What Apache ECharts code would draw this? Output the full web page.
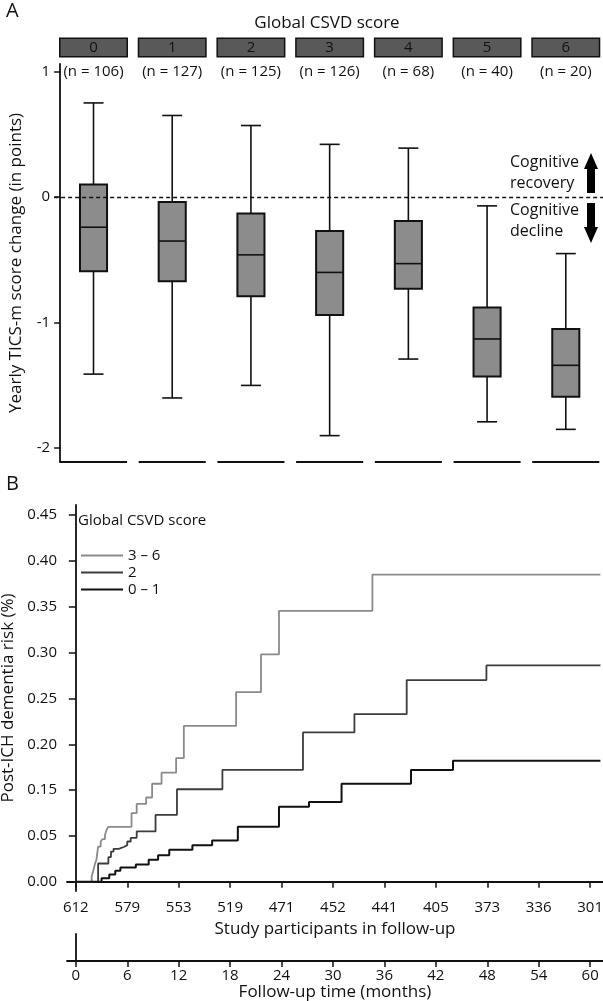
<!DOCTYPE html>
<html><head><meta charset="utf-8">
<script src="https://cdn.jsdelivr.net/npm/echarts@6/dist/echarts.min.js"></script>
<style>html,body{margin:0;padding:0;background:#fff}#c{width:603px;height:1001px}</style>
</head><body><div id="c"></div>
<script>
// ---------- Panel A data ----------
const scoreCategories = ['0','1','2','3','4','5','6'];
const scoreCounts = [106,127,125,126,68,40,20];
const whiskerHigh = [0.75,0.65,0.57,0.42,0.39,-0.07,-0.45];
const upperQuartile = [0.10,-0.04,-0.13,-0.27,-0.19,-0.88,-1.05];
const medians = [-0.24,-0.35,-0.46,-0.60,-0.53,-1.13,-1.34];
const lowerQuartile = [-0.59,-0.67,-0.79,-0.94,-0.73,-1.43,-1.59];
const whiskerLow = [-1.41,-1.60,-1.50,-1.90,-1.29,-1.79,-1.85];
const scoreTicks = [-2,-1,0,1];

// ---------- Panel B data ----------
const monthTicks = [0,6,12,18,24,30,36,42,48,54,60];
const participantsInFollowUp = [612,579,553,519,471,452,441,405,373,336,301];
const riskTickValues = [0,0.05,0.10,0.15,0.20,0.25,0.30,0.35,0.40];
const riskTickLabels = ['0.00','0.05','0.15','0.20','0.25','0.30','0.35','0.40','0.45'];
const groupNames = ['3 – 6','2','0 – 1'];
const months36 = [0,1.85,2.0,2.2,2.4,2.6,2.9,3.1,3.4,3.6,3.8,6.5,7.1,8.2,8.9,10.0,11.7,12.6,18.7,21.6,23.7,34.6,61.2];
const risk36   = [0,0.006,0.011,0.0185,0.024,0.0385,0.044,0.0465,0.051,0.057,0.060,0.075,0.085,0.092,0.107,0.119,0.135,0.17,0.207,0.248,0.2956,0.335,0.335];
const months2  = [0,2.6,3.8,4.1,4.4,5.0,5.6,6.0,6.4,7.1,9.3,11.8,17.1,26.5,32.5,38.6,47.9,61.2];
const risk2    = [0,0.020,0.027,0.033,0.036,0.038,0.040,0.044,0.048,0.055,0.073,0.101,0.122,0.163,0.183,0.22,0.236,0.236];
const months01 = [0,3.0,3.9,4.6,5.2,7.0,8.5,9.6,10.9,13.6,15.9,18.9,23.7,27.2,31.0,39.1,44.0,61.2];
const risk01   = [0,0.004,0.008,0.012,0.0156,0.019,0.024,0.029,0.035,0.040,0.045,0.060,0.082,0.087,0.107,0.122,0.132,0.132];

const FONT = 'Open Sans';
const INK = '#111';
const yMinA = -2.11, yMaxA = 1.06;
const xMinB = -1.03, xMaxB = 61.5;

const boxData = scoreCategories.map((c,i)=>[i, whiskerHigh[i], upperQuartile[i], medians[i], lowerQuartile[i], whiskerLow[i]]);
const pairs = (xs, ys) => xs.map((x,i)=>[x, ys[i]]);

const chart = echarts.init(document.getElementById('c'), null, {renderer:'canvas'});
const option = {
  animation:false,
  backgroundColor:'#fff',
  textStyle:{fontFamily:FONT, color:INK},
  grid:[
    {left:54.15, width:551, top:64, height:398, containLabel:false, outerBoundsMode:'none'},
    {left:67, right:0, top:505, height:386, containLabel:false, outerBoundsMode:'none'},
    {left:67, right:0, top:934, height:27, containLabel:false, outerBoundsMode:'none'}
  ],
  xAxis:[
    {gridIndex:0, type:'category', data:scoreCategories, boundaryGap:true,
     axisLine:{show:false}, axisTick:{show:false}, axisLabel:{show:false}, splitLine:{show:false}},
    {gridIndex:0, type:'category', data:scoreCategories, position:'top', boundaryGap:true,
     axisLine:{show:false}, axisTick:{show:false}, splitLine:{show:false},
     axisLabel:{margin:8, interval:0, formatter:v=>'{b|'+v+'}',
       rich:{b:{width:66,height:17,lineHeight:17,align:'center',backgroundColor:'#595959',borderColor:INK,borderWidth:1.5,color:INK,fontSize:15,fontFamily:FONT}}}},
    {gridIndex:0, type:'category', data:scoreCounts.map(n=>'(n = '+n+')'), position:'top', boundaryGap:true,
     axisLine:{show:false}, axisTick:{show:false}, splitLine:{show:false},
     axisLabel:{inside:true, margin:0, interval:0, fontSize:15, color:INK, fontFamily:FONT}},
    {gridIndex:1, type:'value', min:xMinB, max:xMaxB,
     name:'Study participants in follow-up', nameLocation:'middle', nameGap:30,
     nameTextStyle:{fontSize:17, color:INK, fontFamily:FONT},
     axisLine:{show:true, lineStyle:{color:INK, width:1.8}},
     axisTick:{show:true, length:6, lineStyle:{color:INK, width:1.5}, customValues:monthTicks},
     axisLabel:{fontSize:15, color:INK, margin:9, customValues:monthTicks,
       formatter:v=>{const k=monthTicks.indexOf(Math.round(v)); return k>=0?String(participantsInFollowUp[k]):'';}},
     splitLine:{show:false}},
    {gridIndex:2, type:'value', min:xMinB, max:xMaxB,
     name:'Follow-up time (months)', nameLocation:'middle', nameGap:21,
     nameTextStyle:{fontSize:17, color:INK, fontFamily:FONT},
     axisLine:{show:true, lineStyle:{color:INK, width:1.8}},
     axisTick:{show:true, length:6, lineStyle:{color:INK, width:1.5}, customValues:monthTicks},
     axisLabel:{fontSize:15, color:INK, margin:7, customValues:monthTicks, formatter:v=>String(v)},
     splitLine:{show:false}}
  ],
  yAxis:[
    {gridIndex:0, type:'value', min:yMinA, max:yMaxA, offset:-6,
     name:'Yearly TICS-m score change (in points)', nameLocation:'middle', nameGap:35,
     nameTextStyle:{fontSize:17, color:INK, fontFamily:FONT},
     axisLine:{show:true, lineStyle:{color:INK, width:1.8}},
     axisTick:{show:true, length:6, lineStyle:{color:INK, width:1.5}, customValues:scoreTicks},
     axisLabel:{fontSize:15, color:INK, margin:10, customValues:scoreTicks, formatter:v=>String(v)},
     splitLine:{show:false}},
    {gridIndex:1, type:'value', min:-0.01, max:0.411,
     name:'Post-ICH dementia risk (%)', nameLocation:'middle', nameGap:43,
     nameTextStyle:{fontSize:17, color:INK, fontFamily:FONT},
     axisLine:{show:true, lineStyle:{color:INK, width:1.8}},
     axisTick:{show:true, length:7, lineStyle:{color:INK, width:1.5}, customValues:riskTickValues},
     axisLabel:{fontSize:15, color:INK, margin:10, customValues:riskTickValues,
       formatter:v=>{let k=-1; riskTickValues.forEach((t,j)=>{if(Math.abs(t-v)<1e-6)k=j;}); return k>=0?riskTickLabels[k]:'';}},
     splitLine:{show:false}},
    {gridIndex:2, type:'value', min:0, max:1,
     axisLine:{show:true, lineStyle:{color:INK, width:1.8}},
     axisTick:{show:false}, axisLabel:{show:false}, splitLine:{show:false}}
  ],
  legend:{
    left:76, top:543, orient:'vertical', icon:'rect', itemWidth:42, itemHeight:2, itemGap:2,
    textStyle:{fontSize:15, color:INK, fontFamily:FONT}, data:groupNames, selectedMode:false
  },
  series:[
    {type:'custom', xAxisIndex:0, yAxisIndex:0, data:boxData, clip:false,
     renderItem:(params, api)=>{
       const i = api.value(0);
       const pHi = api.coord([i, api.value(1)]);
       const pQ3 = api.coord([i, api.value(2)]);
       const pMed = api.coord([i, api.value(3)]);
       const pQ1 = api.coord([i, api.value(4)]);
       const pLo = api.coord([i, api.value(5)]);
       const pBase = api.coord([i, yMinA]);
       const band = api.size([1,0])[0];
       const x = pHi[0];
       const hw = band*0.172, cw = band*0.127, sw = band*0.426;
       const ls = {stroke:INK, lineWidth:1.6};
       return {type:'group', children:[
         {type:'line', shape:{x1:x,y1:pHi[1],x2:x,y2:pQ3[1]}, style:ls},
         {type:'line', shape:{x1:x,y1:pQ1[1],x2:x,y2:pLo[1]}, style:ls},
         {type:'line', shape:{x1:x-cw,y1:pHi[1],x2:x+cw,y2:pHi[1]}, style:ls},
         {type:'line', shape:{x1:x-cw,y1:pLo[1],x2:x+cw,y2:pLo[1]}, style:ls},
         {type:'rect', shape:{x:x-hw,y:pQ3[1],width:2*hw,height:pQ1[1]-pQ3[1]}, style:{fill:'#8c8c8c',stroke:INK,lineWidth:2}},
         {type:'line', shape:{x1:x-hw,y1:pMed[1],x2:x+hw,y2:pMed[1]}, style:ls},
         {type:'line', shape:{x1:x-sw,y1:pBase[1],x2:x+sw,y2:pBase[1]}, style:{stroke:INK,lineWidth:1.8}}
       ]};
     },
     markLine:{silent:true, symbol:'none', label:{show:false},
       lineStyle:{color:INK, width:1.4, type:[4,3]},
       data:[{yAxis:0}]}
    },
    {name:groupNames[0], type:'line', xAxisIndex:3, yAxisIndex:1, step:'end', showSymbol:false, symbol:'none',
     data:pairs(months36, risk36), lineStyle:{color:'#8a8a8a', width:1.8}, itemStyle:{color:'#8a8a8a'}},
    {name:groupNames[1], type:'line', xAxisIndex:3, yAxisIndex:1, step:'end', showSymbol:false, symbol:'none',
     data:pairs(months2, risk2), lineStyle:{color:'#3c3c3c', width:1.8}, itemStyle:{color:'#3c3c3c'}},
    {name:groupNames[2], type:'line', xAxisIndex:3, yAxisIndex:1, step:'end', showSymbol:false, symbol:'none',
     data:pairs(months01, risk01), lineStyle:{color:'#111', width:2}, itemStyle:{color:'#111'}}
  ],
  graphic:[
    {type:'text', left:6, top:1, style:{text:'A', fontSize:20, fill:INK, fontFamily:FONT}},
    {type:'text', left:6, top:474, style:{text:'B', fontSize:20, fill:INK, fontFamily:FONT}},
    {type:'text', x:327, y:23, style:{text:'Global CSVD score', fontSize:17, fill:INK, fontFamily:FONT, align:'center', verticalAlign:'middle'}},
    {type:'text', x:510, y:162, style:{text:'Cognitive', fontSize:16, fill:INK, fontFamily:FONT, verticalAlign:'middle'}},
    {type:'text', x:510, y:183, style:{text:'recovery', fontSize:16, fill:INK, fontFamily:FONT, verticalAlign:'middle'}},
    {type:'text', x:510, y:210, style:{text:'Cognitive', fontSize:16, fill:INK, fontFamily:FONT, verticalAlign:'middle'}},
    {type:'text', x:510, y:231, style:{text:'decline', fontSize:16, fill:INK, fontFamily:FONT, verticalAlign:'middle'}},
    {type:'polygon', shape:{points:[[591,153],[598,169],[595,169],[595,193],[587,193],[587,169],[584,169]]}, style:{fill:'#000'}},
    {type:'polygon', shape:{points:[[591,243],[598,227],[595,227],[595,203],[587,203],[587,227],[584,227]]}, style:{fill:'#000'}},
    {type:'text', x:78, y:521, style:{text:'Global CSVD score', fontSize:15, fill:INK, fontFamily:FONT, verticalAlign:'middle'}}
  ]
};
chart.setOption(option);
</script>
</body></html>
